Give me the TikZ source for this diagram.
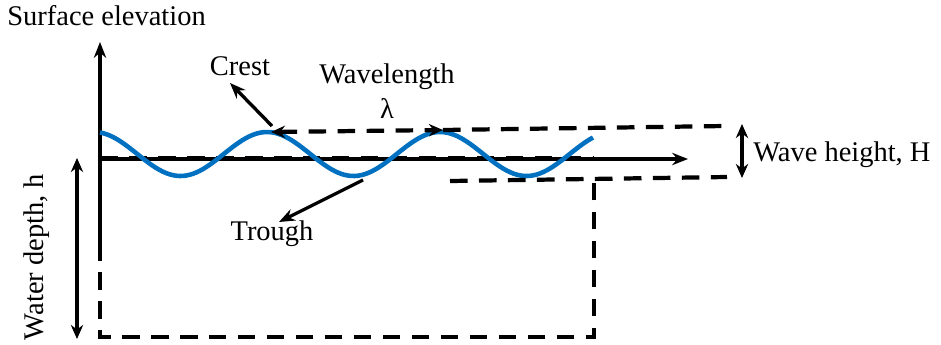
\documentclass[tikz,border=0pt]{standalone}
\usepackage{fontspec}
\setmainfont{Liberation Serif}
\usetikzlibrary{arrows.meta}
\definecolor{wblue}{HTML}{0070C0}
\begin{document}
\begin{tikzpicture}[x=0.02cm,y=-0.02cm,
  lbl/.style={font=\fontsize{16.2}{19}\selectfont, inner sep=0pt},
  axisline/.style={line width=2pt,-{Stealth[length=9pt,width=7pt]}},
  dsh/.style={line width=2.4pt, dash pattern=on 10pt off 6.5pt},
  thindsh/.style={line width=1.6pt, dash pattern=on 10pt off 6.5pt},
  ptr/.style={line width=1.9pt,-{Stealth[length=9pt,width=7pt]}},
  dbl/.style={line width=1.9pt,{Stealth[length=8pt,width=7pt]}-{Stealth[length=8pt,width=7pt]}},
  wave/.style={line width=2.6pt, color=wblue}]
\useasboundingbox (0,0) rectangle (941,345);

% coordinates
\coordinate (O) at (100,159);
\coordinate (ytop) at (100,42);
\coordinate (ylow) at (100,243);
\coordinate (xend) at (688,159);
\coordinate (bl) at (100,337);
\coordinate (br) at (594,337);
\coordinate (tr) at (594,175);
\coordinate (topl) at (100,157.6);
\coordinate (topr) at (594,157.6);
\coordinate (c1) at (271,132);
\coordinate (c2) at (443,130);
\coordinate (hu) at (725,126);
\coordinate (ll) at (450,181);
\coordinate (lr) at (727,177);
\coordinate (h1) at (742,124);
\coordinate (h2) at (742,178);
\coordinate (d1) at (77,158);
\coordinate (d2) at (77,339);
\coordinate (cs) at (272,126);
\coordinate (ce) at (230,83);
\coordinate (ts) at (363,180);
\coordinate (te) at (279,222);

% dashed box
\draw[dsh] (ylow) -- (bl) -- (br) -- (tr);
\draw[thindsh] (topl) -- (topr);

% axes
\draw[axisline] (ylow) -- (ytop);
\draw[axisline] (O) -- (xend);

% wave
\draw[wave] plot[domain=100:593, samples=150] (\x, {154-22*cos(2.08092*(\x-267))});

% wavelength and wave height lines
\draw[dsh, {Stealth[length=8pt,width=7pt]}-{Stealth[length=8pt,width=7pt]}] (c1) -- (c2);
\draw[dsh] (c2) -- (hu);
\draw[dsh] (ll) -- (lr);

% arrows
\draw[dbl] (h1) -- (h2);
\draw[dbl] (d1) -- (d2);
\draw[ptr] (cs) -- (ce);
\draw[ptr] (ts) -- (te);

% labels
\node[lbl, anchor=west] (title) at (7,16) {Surface elevation};
\node[lbl] (crest) at (240,66) {Crest};
\node[lbl] (wl) at (387,77) {Wavelength};
\node[lbl] (lam) at (387,108) {λ};
\node[lbl] (trough) at (272,234) {Trough};
\node[lbl, anchor=west] (wh) at (753,155) {Wave height, H};
\node[lbl, rotate=90] (wd) at (37,257) {Water depth, h};
\end{tikzpicture}
\end{document}
